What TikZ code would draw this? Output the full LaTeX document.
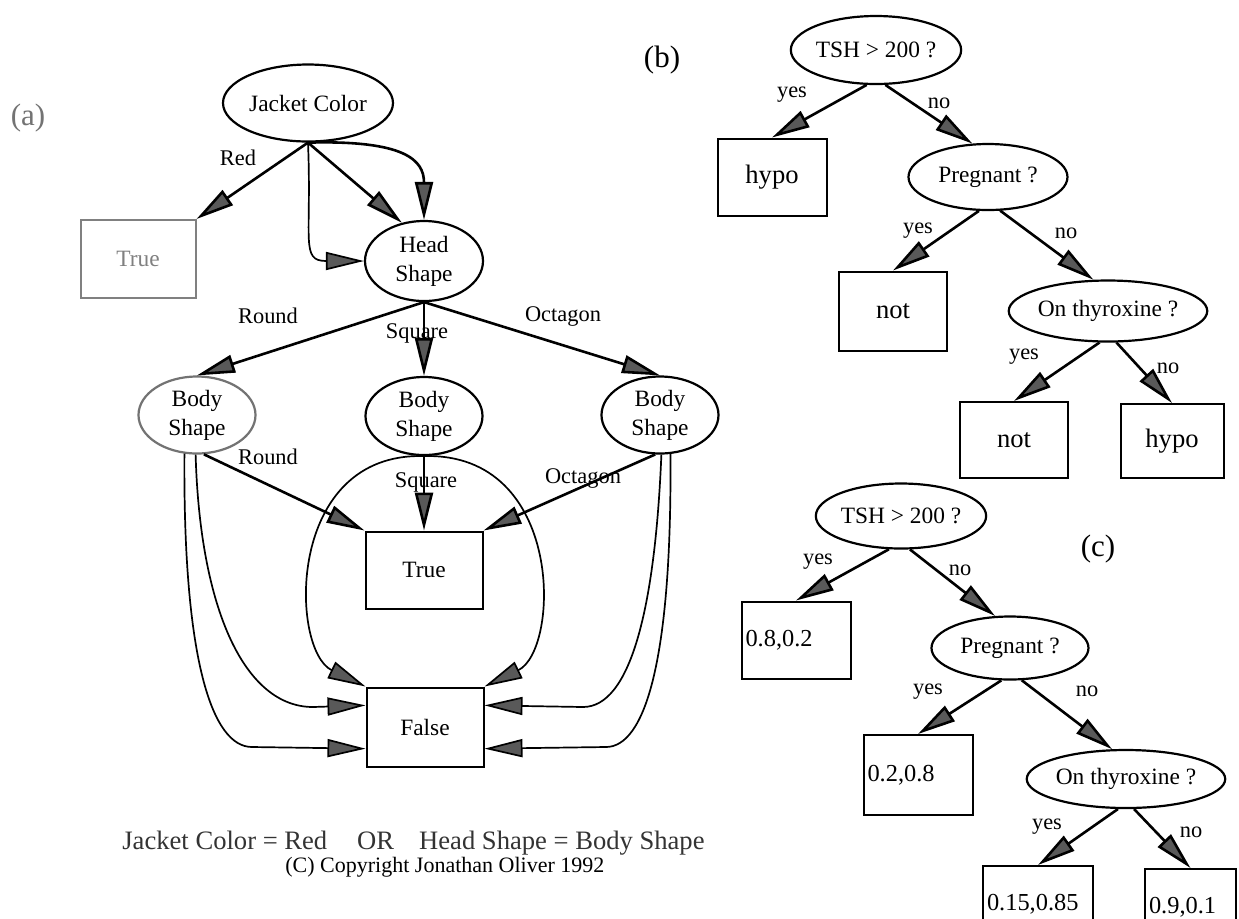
\documentclass[tikz,border=0pt]{standalone}
\usepackage{fontspec}
\setmainfont{Liberation Serif}
\usetikzlibrary{arrows.meta,shapes.geometric}

\begin{document}
\begin{tikzpicture}[x=0.5pt, y=-0.5pt,
  oval/.style = {draw, ellipse, line width=1.1pt, inner sep=0pt, align=center,
                 font=\fontsize{11.7}{14.5}\selectfont},
  leaf/.style = {draw, rectangle, line width=1pt, inner sep=0pt,
                 font=\fontsize{13.3}{16}\selectfont},
  num/.style  = {leaf, align=left, inner xsep=2pt, text width=#1,
                 font=\fontsize{12.2}{14}\selectfont},
  lbl/.style  = {inner sep=0pt, font=\fontsize{11.2}{13}\selectfont},
  tag/.style  = {inner sep=0pt, font=\fontsize{15.5}{18}\selectfont},
  arr/.style  = {line width=1.3pt, -{Triangle[length=19pt, width=9pt, fill=black!65]}},
  curv/.style = {arr, line width=0.85pt}]

  \fill[white] (0,0) rectangle (1239,918);
  \useasboundingbox (0,0) rectangle (1239,918);

  % (a) the jacket tree
  \node[tag, text=black!55] (ta) at (28,118) {(a)};
  \node[oval, minimum width=85pt, minimum height=38.5pt] (jc) at (308,103) {Jacket Color};
  \node[leaf, draw=black!50, text=black!50, minimum width=57.5pt, minimum height=39pt,
        font=\fontsize{11.7}{14}\selectfont] (t1) at (138,259) {True};
  \node[oval, minimum width=59pt, minimum height=40pt] (hd) at (424,261) {Head\\Shape};
  \node[oval, draw=black!55, minimum width=58.5pt, minimum height=38.5pt] (bl) at (197,415) {Body\\Shape};
  \node[oval, minimum width=58.5pt, minimum height=39pt] (bm) at (424,416) {Body\\Shape};
  \node[oval, minimum width=58.5pt, minimum height=38.5pt] (br) at (660,415) {Body\\Shape};
  \node[leaf, minimum width=58.5pt, minimum height=38.5pt,
        font=\fontsize{11.7}{14}\selectfont] (t2) at (424,570) {True};
  \node[leaf, minimum width=58.5pt, minimum height=39.5pt,
        font=\fontsize{11.7}{14}\selectfont] (f1) at (425,727) {False};

  \foreach \x/\y/\t [count=\i] in {238/158/Red, 268/316/Round, 417/333/Square,
      563/316/Octagon, 268/457/Round, 426/482/Square, 583/478/Octagon}
    \node[lbl] (ea\i) at (\x,\y) {\t};

  \draw[arr] (jc.south) -- (t1.north east);
  \draw[arr] (jc.south) -- (hd.120);
  \draw[arr] (jc.south) .. controls (405,140) and (424,160) .. (hd.north);
  \draw[curv] (jc.south) .. controls (312,240) and (300,261) .. (hd.west);

  \draw[arr] (hd.south) -- (bl.north);
  \draw[arr] (hd.south) -- (bm.north);
  \draw[arr] (hd.south) -- (br.north);

  \draw[arr] (bl.-80) -- (t2.north west);
  \draw[arr] (bm.south) -- (t2.north);
  \draw[arr] (br.-97) -- (t2.north east);

  % every other pair goes to False
  \draw[curv] (bl.-108) .. controls (183,660) and (212,747) .. (252,747) -- (f1.200);
  \draw[curv] (bl.-92) .. controls (200,610) and (245,707) .. (313,707) -- (f1.160);
  \draw[curv] (bm.south) .. controls (285,452) and (290,650) .. (f1.north west);
  \draw[curv] (bm.south) .. controls (565,452) and (560,650) .. (f1.north east);
  \draw[curv] (br.-88) .. controls (655,610) and (630,707) .. (583,707) -- (f1.20);
  \draw[curv] (br.-75) .. controls (672,660) and (645,747) .. (606,747) -- (f1.-20);

  \node[anchor=base west, inner sep=0pt, text=black!80, font=\fontsize{13.3}{16}\selectfont] (rule)
    at (122,849) {Jacket Color = Red\hspace{15pt}OR\hspace{12.5pt}Head Shape = Body Shape};
  \node[anchor=base west, inner sep=0pt, font=\fontsize{11}{13}\selectfont] (copy)
    at (285,872) {(C) Copyright Jonathan Oliver 1992};

  % (b) the thyroid tree
  \node[tag] (tb) at (662,60) {(b)};
  \node[oval, minimum width=79.5pt, minimum height=34pt] (s1) at (876,50) {TSH > 200 ?};
  \node[leaf, minimum width=54.5pt, minimum height=38.5pt] (h1) at (772,177) {hypo};
  \node[oval, minimum width=79.5pt, minimum height=33pt] (p1) at (988,177) {Pregnant ?};
  \node[leaf, minimum width=54pt, minimum height=39.5pt] (n1) at (893,311) {not};
  \node[oval, minimum width=79.5pt, minimum height=30.5pt] (o1) at (1108,311) {On thyroxine ?};
  \node[leaf, minimum width=54pt, minimum height=38pt] (n2) at (1014,440) {not};
  \node[leaf, minimum width=51.5pt, minimum height=37pt] (h2) at (1172,441) {hypo};

  \foreach \x/\y/\t [count=\i] in {792/95/yes, 939/103/no, 918/231/yes,
      1066/233/no, 1024/357/yes, 1168/368/no}
    \node[lbl] (eb\i) at (\x,\y) {\t};

  \draw[arr] (s1.-105) -- (h1.north);
  \draw[arr] (s1.-75) -- (p1.115);
  \draw[arr] (p1.-105) -- (n1.north);
  \draw[arr] (p1.-70) -- (o1.115);
  \draw[arr] (o1.-105) -- (n2.north);
  \draw[arr] (o1.-75) -- (h2.north);

  % (c) same tree with class probabilities
  \node[tag] (tc) at (1098,549) {(c)};
  \node[oval, minimum width=80pt, minimum height=32.5pt] (s2) at (901,516) {TSH > 200 ?};
  \node[num=50.5pt, minimum height=38.5pt] (q1) at (796,640) {0.8,0.2};
  \node[oval, minimum width=78.5pt, minimum height=31.5pt] (p2) at (1010,648) {Pregnant ?};
  \node[num=50.5pt, minimum height=40pt] (q2) at (918,775) {0.2,0.8};
  \node[oval, minimum width=78.5pt, minimum height=29pt] (o2) at (1126,779) {On thyroxine ?};
  \node[num=51pt, minimum height=38.5pt] (q3) at (1038,904.5) {0.15,0.85};
  \node[num=41.5pt, minimum height=38.5pt] (q4) at (1190.5,907.5) {0.9,0.1};

  \foreach \x/\y/\t [count=\i] in {818/562/yes, 960/570/no, 928/692/yes,
      1087/691/no, 1047/827/yes, 1191/832/no}
    \node[lbl] (ec\i) at (\x,\y) {\t};

  \draw[arr] (s2.-110) -- (q1.north);
  \draw[arr] (s2.-75) -- (p2.115);
  \draw[arr] (p2.-105) -- (q2.north);
  \draw[arr] (p2.-70) -- (o2.115);
  \draw[arr] (o2.-105) -- (q3.north);
  \draw[arr] (o2.-75) -- (q4.north);
\end{tikzpicture}
\end{document}
